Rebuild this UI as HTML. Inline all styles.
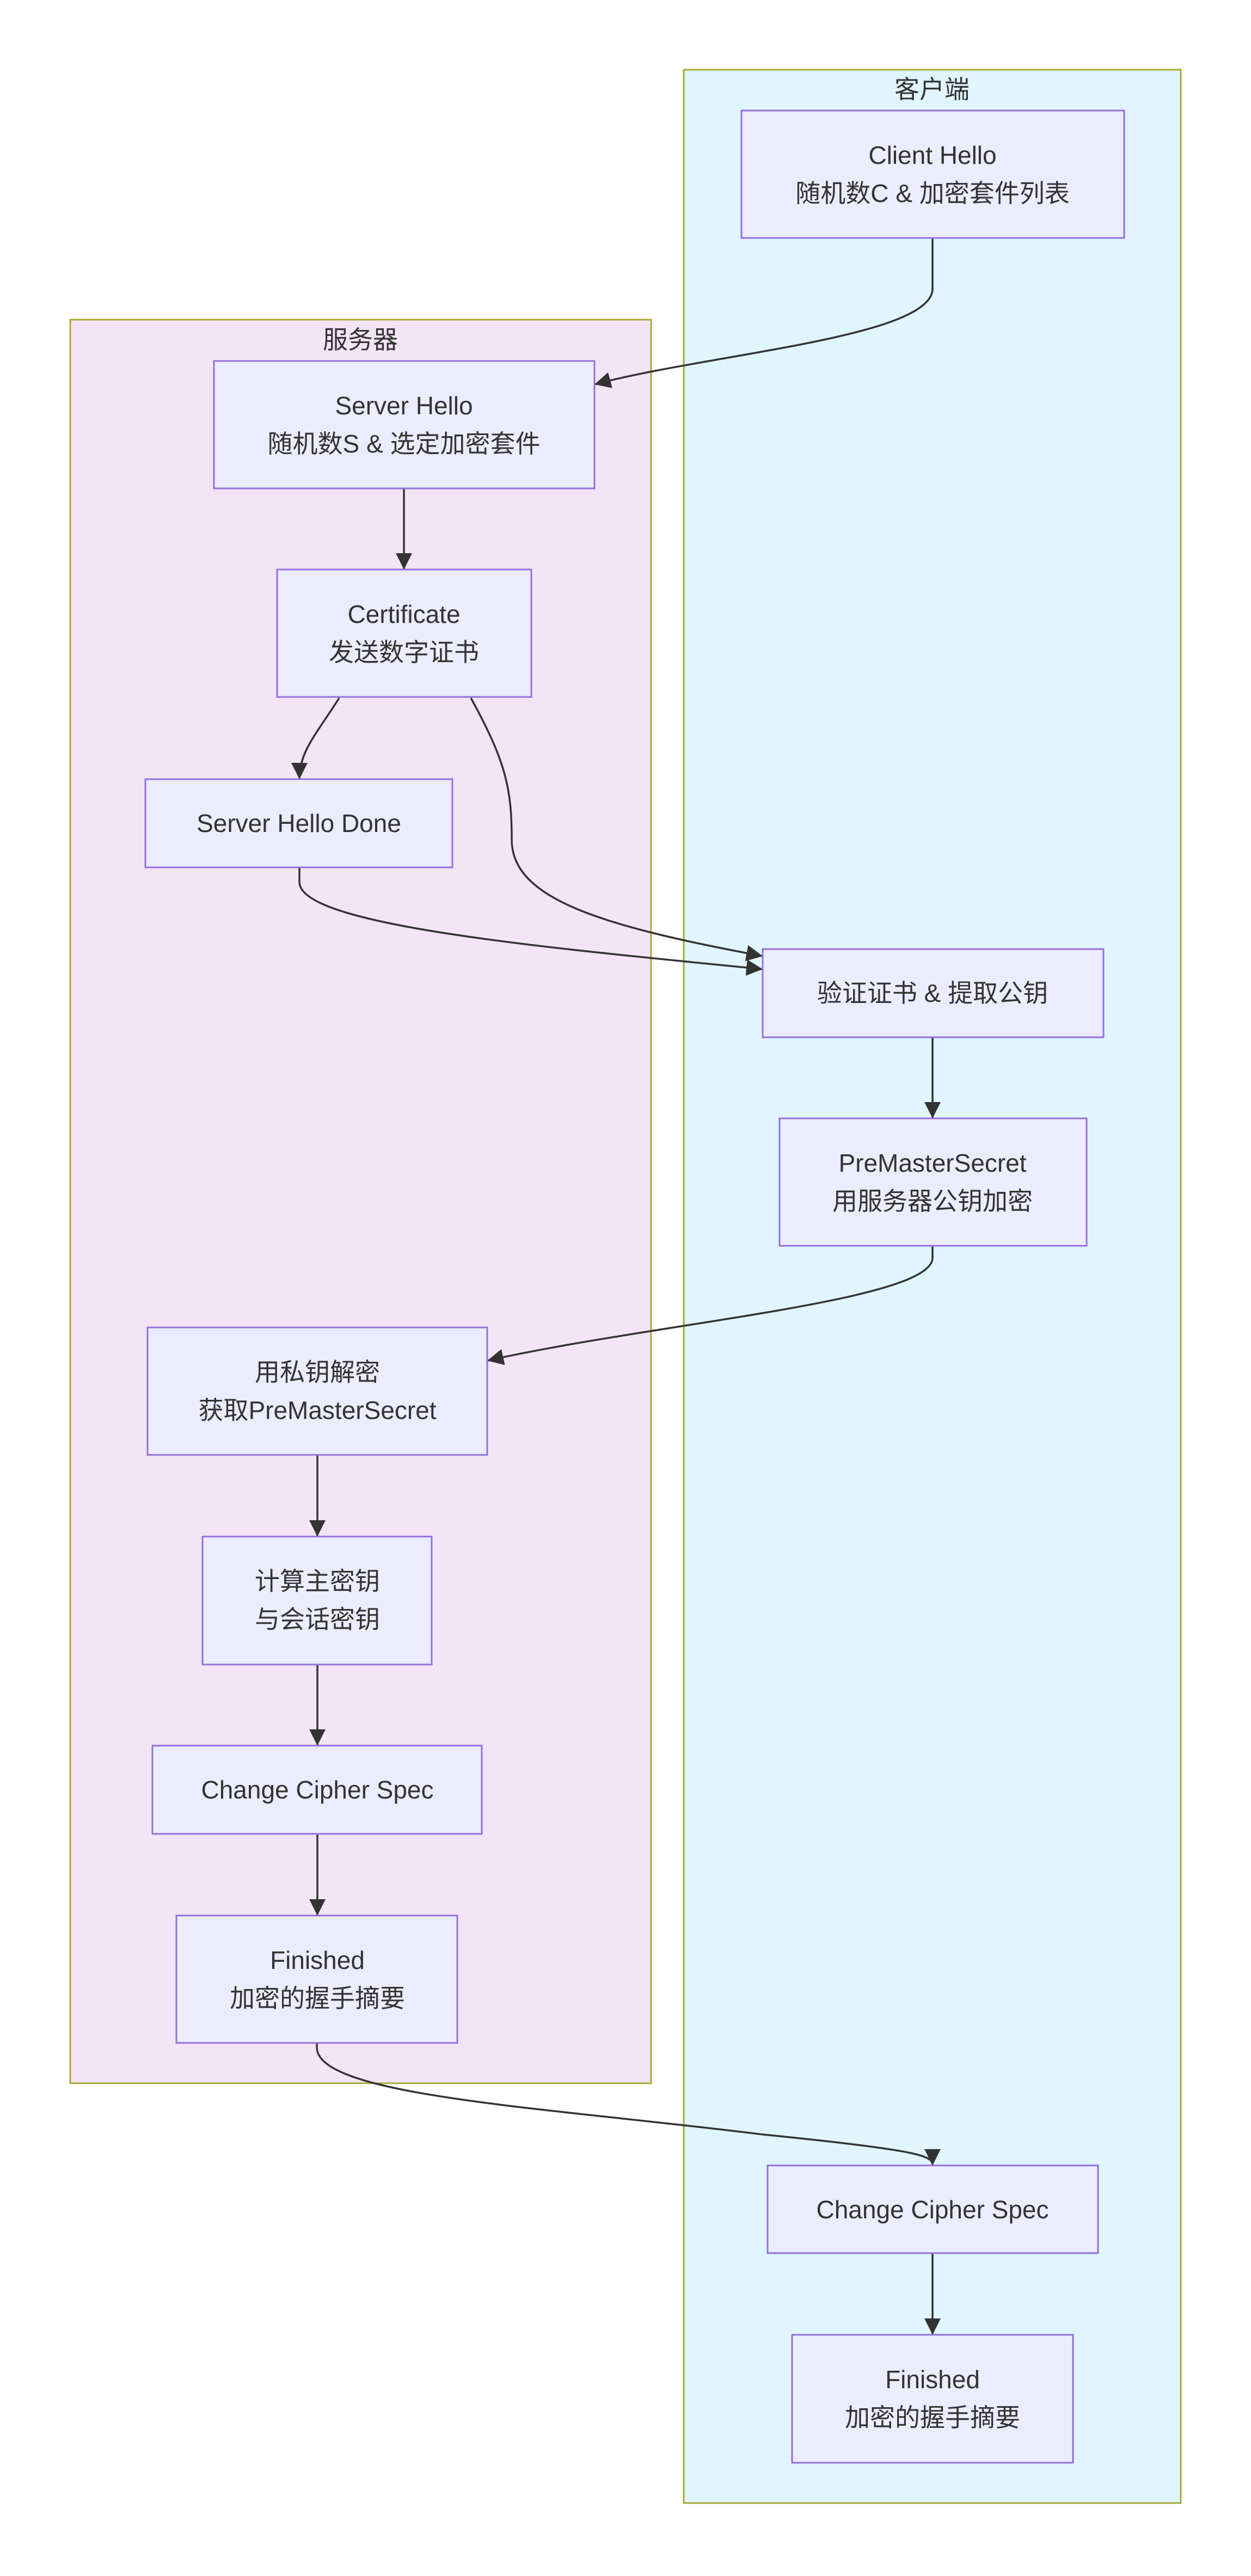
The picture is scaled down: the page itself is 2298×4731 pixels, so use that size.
<!DOCTYPE html>
<html><head><meta charset="utf-8"><style>
html,body{margin:0;padding:0;background:#fff;}
svg text{font-family:"Liberation Sans","Noto Sans CJK SC",sans-serif;font-size:46px;fill:#333;text-anchor:middle;dominant-baseline:central;}
</style></head><body>
<svg width="2298" height="4726" viewBox="0 0 2298 4726" xmlns="http://www.w3.org/2000/svg">
<defs>
<marker id="a" markerUnits="userSpaceOnUse" markerWidth="30" markerHeight="30" viewBox="0 0 10 10" refX="10" refY="5" orient="auto">
<path d="M0,0 L10,5 L0,10 z" fill="#333"/>
</marker>
</defs>
<rect x="1256" y="128" width="913" height="4469" fill="#E1F5FE" stroke="#AAAA33" stroke-width="3"/>
<rect x="129" y="587" width="1067" height="3239" fill="#F3E5F5" stroke="#AAAA33" stroke-width="3"/>
<text x="1712" y="164">客户端</text>
<text x="662" y="624">服务器</text>
<g fill="none" stroke="#333" stroke-width="3.5" marker-end="url(#a)">
<path d="M1713,437 V530 C1713,620 1300,650 1092,706"/>
<path d="M742,897 V1046"/>
<path d="M623,1282 C580,1350 550,1380 550,1431"/>
<path d="M865,1282 C930,1400 940,1450 940,1542 C940,1650 1100,1700 1401,1756"/>
<path d="M550,1593 V1620 C550,1700 1000,1740 1401,1780"/>
<path d="M1713,1905 V2054"/>
<path d="M1713,2288 V2310 C1713,2390 1200,2430 895,2499"/>
<path d="M583,2672 V2822"/>
<path d="M583,3057 V3206"/>
<path d="M583,3368 V3518"/>
<path d="M582,3752 V3760 C582,3850 1000,3870 1400,3920 C1700,3950 1713,3960 1713,3977"/>
<path d="M1713,4138 V4288"/>
</g>
<g fill="#ECECFF" stroke="#9370DB" stroke-width="3">
<rect x="1362" y="203" width="703" height="234"/>
<rect x="393" y="663" width="699" height="234"/>
<rect x="509" y="1046" width="467" height="234"/>
<rect x="267" y="1431" width="564" height="162"/>
<rect x="1401" y="1743" width="626" height="162"/>
<rect x="1432" y="2054" width="564" height="234"/>
<rect x="271" y="2438" width="624" height="234"/>
<rect x="372" y="2822" width="421" height="235"/>
<rect x="280" y="3206" width="605" height="162"/>
<rect x="324" y="3518" width="516" height="234"/>
<rect x="1410" y="3977" width="607" height="161"/>
<rect x="1455" y="4288" width="516" height="235"/>
</g>
<text x="1713" y="285">Client Hello</text><text x="1713" y="355">随机数C &amp; 加密套件列表</text>
<text x="742" y="745">Server Hello</text><text x="742" y="815">随机数S &amp; 选定加密套件</text>
<text x="742" y="1128">Certificate</text><text x="742" y="1198">发送数字证书</text>
<text x="549" y="1512">Server Hello Done</text>
<text x="1713" y="1824">验证证书 &amp; 提取公钥</text>
<text x="1713" y="2136">PreMasterSecret</text><text x="1713" y="2206">用服务器公钥加密</text>
<text x="583" y="2520">用私钥解密</text><text x="583" y="2590">获取PreMasterSecret</text>
<text x="583" y="2904">计算主密钥</text><text x="583" y="2974">与会话密钥</text>
<text x="583" y="3287">Change Cipher Spec</text>
<text x="583" y="3600">Finished</text><text x="583" y="3670">加密的握手摘要</text>
<text x="1713" y="4058">Change Cipher Spec</text>
<text x="1713" y="4370">Finished</text><text x="1713" y="4440">加密的握手摘要</text>
</svg>
</body></html>
